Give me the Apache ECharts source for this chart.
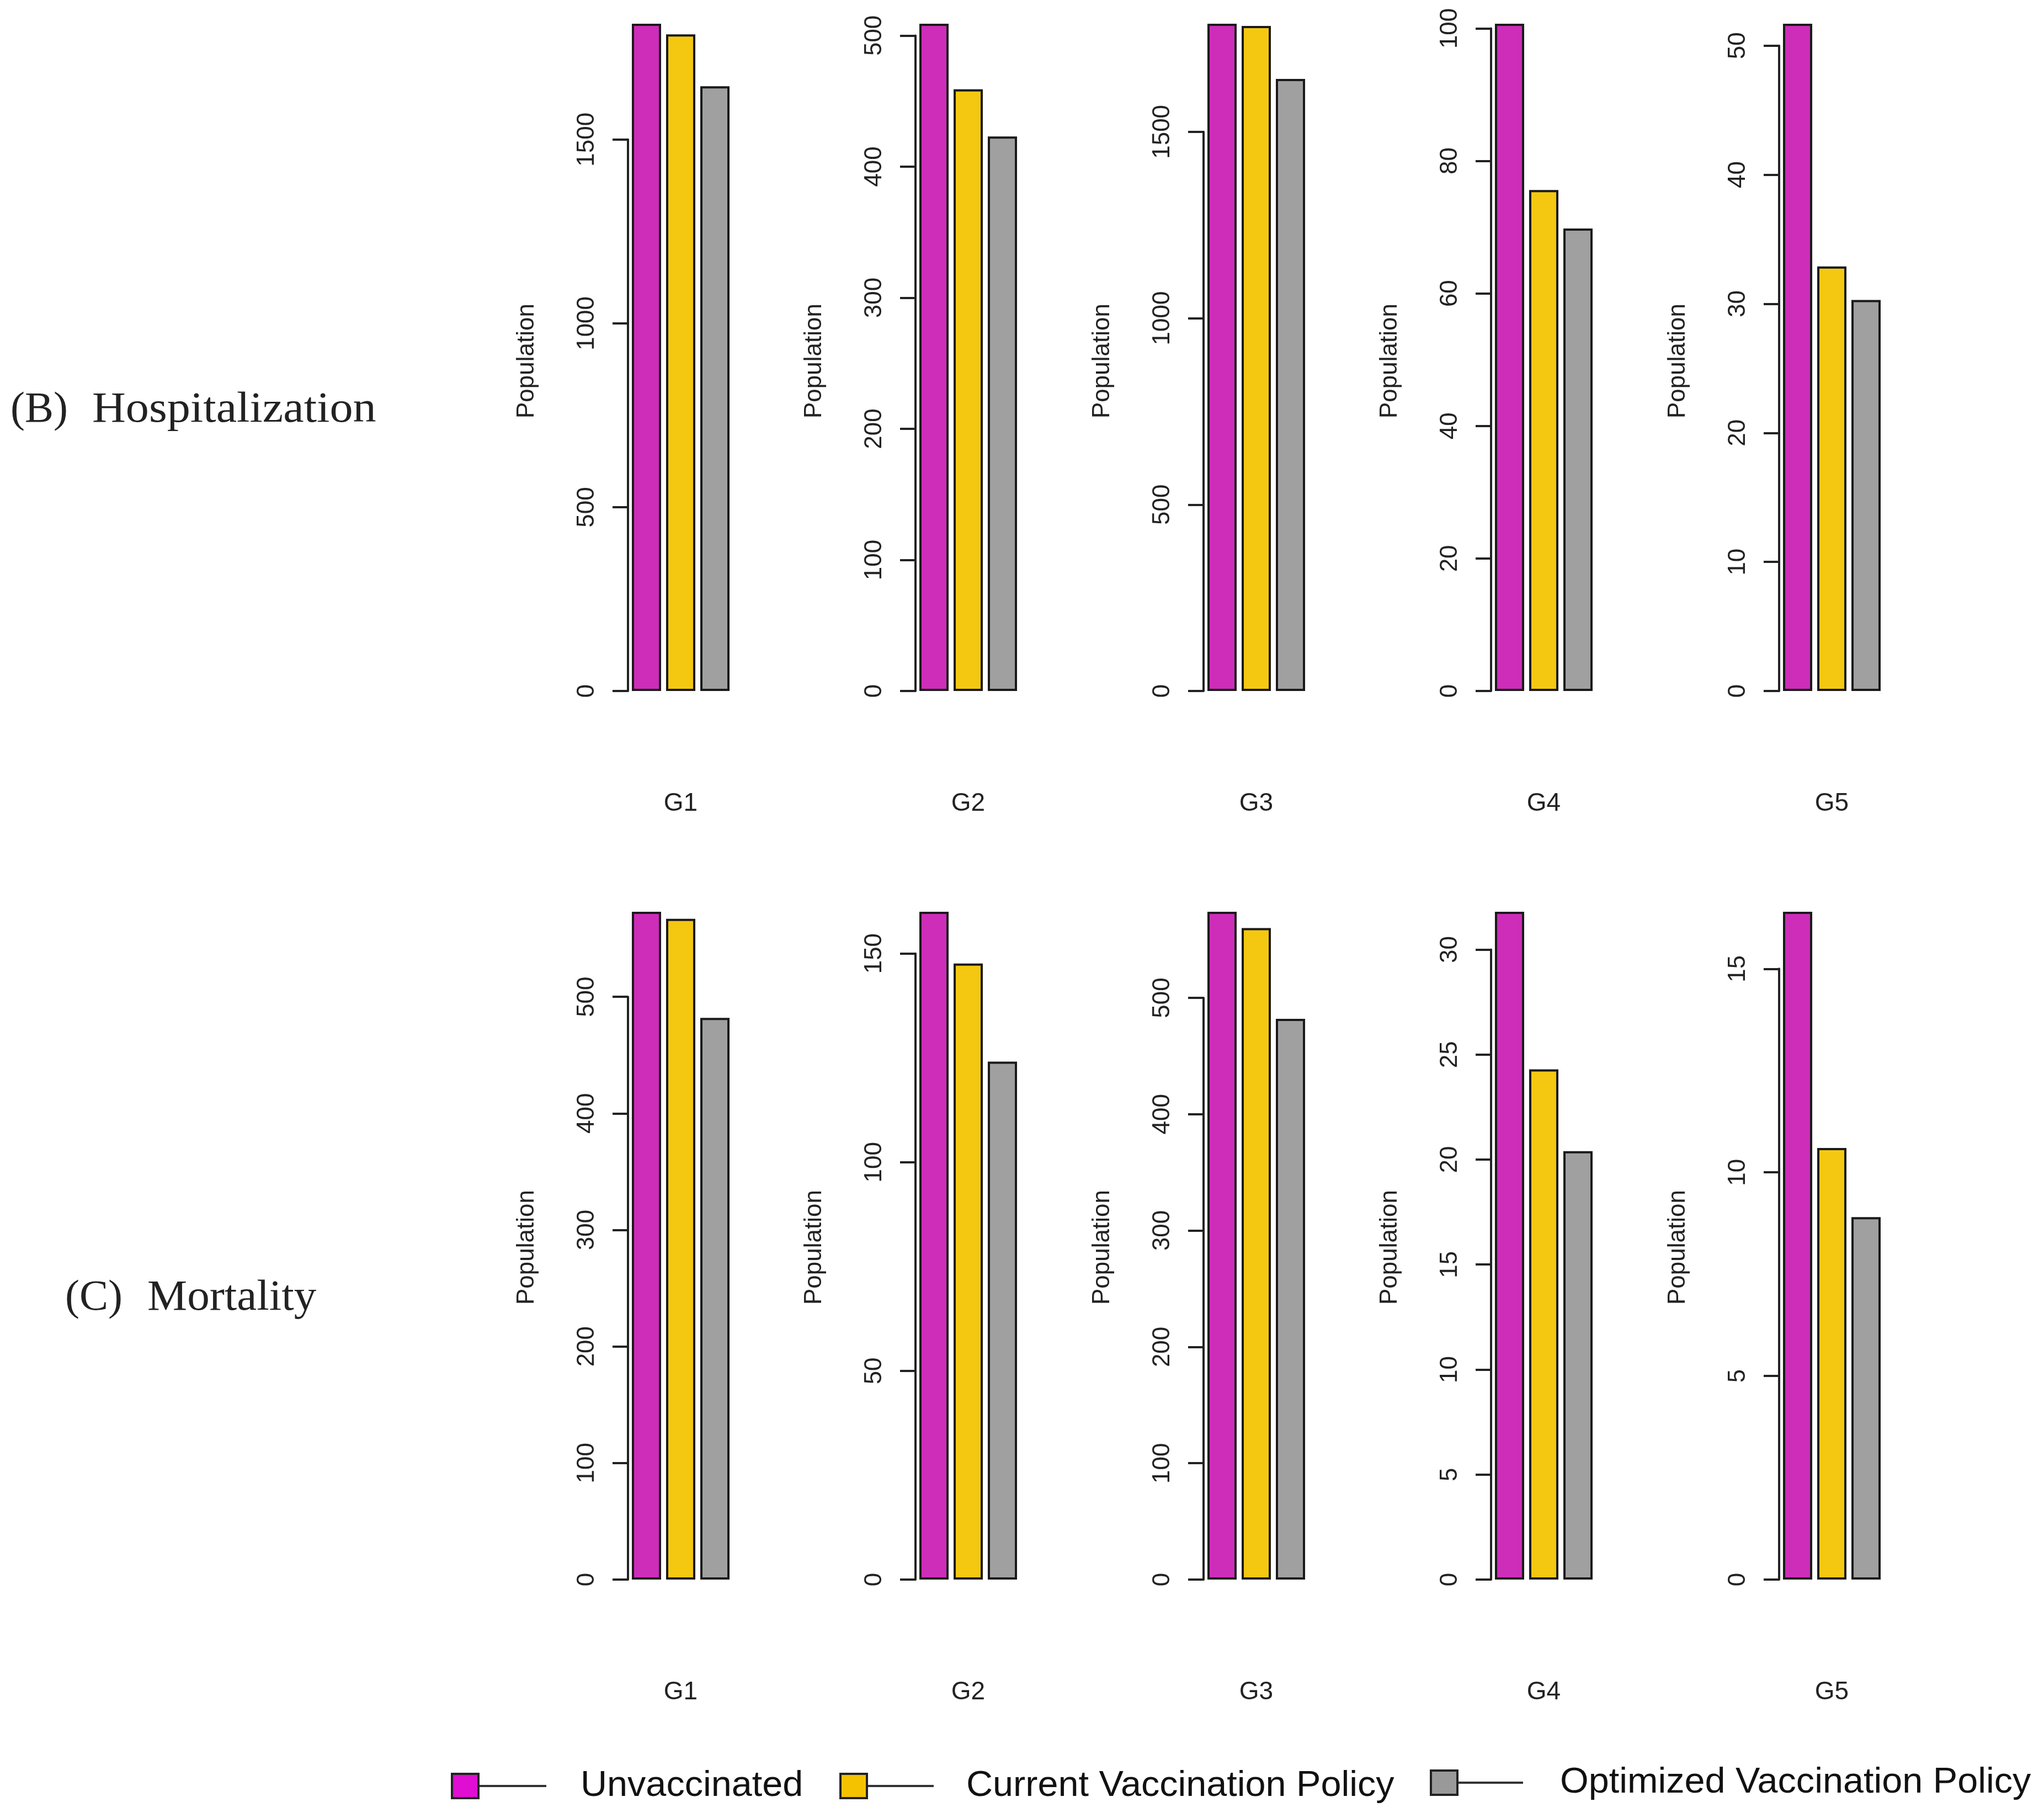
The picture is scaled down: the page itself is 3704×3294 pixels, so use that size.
<!DOCTYPE html>
<html>
<head>
<meta charset="utf-8">
<script src="https://cdn.jsdelivr.net/npm/echarts@6/dist/echarts.min.js"></script>
<style>
html,body{margin:0;padding:0;background:#fff;}
#chart{width:3704px;height:3294px;}
</style>
</head>
<body>
<div id="chart"></div>
<script>
// ---------------- data ----------------
const categories = ['G1', 'G2', 'G3', 'G4', 'G5'];
const seriesNames = ['Unvaccinated', 'Current Vaccination Policy', 'Optimized Vaccination Policy'];
const rowLabels = [['(B)', 'Hospitalization'], ['(C)', 'Mortality']];
const yAxisTitle = 'Population';

const hospUnvaccinated = [1815, 509, 1790, 100.7, 51.7];
const hospCurrent      = [1786, 459, 1784, 75.6, 32.9];
const hospOptimized    = [1645, 423, 1642, 69.8, 30.3];

const mortUnvaccinated = [573, 160, 574, 31.8, 16.4];
const mortCurrent      = [567, 147.6, 560, 24.3, 10.6];
const mortOptimized    = [482, 124.1, 482, 20.4, 8.9];

const hospTickMax  = [1500, 500, 1500, 100, 50];
const hospTickStep = [500, 100, 500, 20, 10];
const mortTickMax  = [500, 150, 500, 30, 15];
const mortTickStep = [100, 50, 100, 5, 5];

// ---------------- styles / layout ----------------
const barColors = ['#CD2DB9', '#F4C811', '#A0A0A0'];
const legendColors = ['#DF0ED2', '#F5C200', '#999999'];
const W = 3704, H = 3294;
const axisX = [1138, 1659, 2181, 2702, 3224];
const rowBaseline = [1252, 2862];
const rowBarTop = [43, 1652];
const gridWidth = 191;
const sans = 'Liberation Sans, Arial, Helvetica, sans-serif';
const serif = 'Liberation Serif, Times New Roman, serif';

const rows = [
  { vals: [hospUnvaccinated, hospCurrent, hospOptimized], tmax: hospTickMax, tstep: hospTickStep },
  { vals: [mortUnvaccinated, mortCurrent, mortOptimized], tmax: mortTickMax, tstep: mortTickStep }
];

const grids = [], xAxes = [], yAxes = [], series = [], graphics = [];

rows.forEach((row, r) => {
  const base = rowBaseline[r];
  const span = base - rowBarTop[r];
  categories.forEach((cat, i) => {
    const idx = r * categories.length + i;
    const maxVal = Math.max(row.vals[0][i], row.vals[1][i], row.vals[2][i]);
    const top = base - (row.tmax[i] / maxVal) * span;
    grids.push({ left: axisX[i], width: gridWidth, top: top, bottom: H - base, containLabel: false });
    xAxes.push({
      type: 'category', gridIndex: idx, data: [cat],
      axisLine: { show: false }, axisTick: { show: false },
      axisLabel: { margin: 181, fontSize: 46, color: '#222', fontFamily: sans }
    });
    yAxes.push({
      type: 'value', gridIndex: idx, min: 0, max: row.tmax[i], interval: row.tstep[i],
      splitLine: { show: false },
      axisLine: { show: true, lineStyle: { color: '#222', width: 4 } },
      axisTick: { show: true, length: 28, lineStyle: { color: '#222', width: 4 } },
      axisLabel: { rotate: 90, margin: 52, fontSize: 44, color: '#222', fontFamily: sans,
                   formatter: v => String(v) }
    });
    row.vals.forEach((arr, s) => {
      series.push({
        type: 'bar', name: seriesNames[s], xAxisIndex: idx, yAxisIndex: idx,
        data: [arr[i]], barWidth: 53, barGap: '17%', clip: false,
        itemStyle: { color: barColors[s], borderColor: '#1a1a1a', borderWidth: 4 },
        emphasis: { disabled: true }, silent: true
      });
    });
    // y-axis title
    graphics.push({
      type: 'text', x: axisX[i] - 183, y: r === 0 ? 654 : 2260, rotation: Math.PI / 2,
      style: { text: yAxisTitle, font: '44px ' + sans, fill: '#222', align: 'center', verticalAlign: 'middle' }
    });
  });
});

// row labels
const rowLabelX = [[19, 167], [118, 267]];
const rowLabelY = [744, 2353];
rowLabels.forEach((lab, r) => {
  graphics.push({ type: 'text', x: rowLabelX[r][0], y: rowLabelY[r],
    style: { text: lab[0], font: '78px ' + serif, fill: '#222', align: 'left', verticalAlign: 'middle' } });
  graphics.push({ type: 'text', x: rowLabelX[r][1], y: rowLabelY[r], scaleX: r === 0 ? 1.08 : 1.04,
    style: { text: lab[1], font: '78px ' + serif, fill: '#222', align: 'left', verticalAlign: 'middle' } });
});

// legend (square + line + label)
const legSquareX = [819, 1523, 2593];
const legLineEnd = [990, 1692, 2760];
const legTextX = [1052, 1751, 2827];
const legY = [3236, 3236, 3230];
seriesNames.forEach((name, s) => {
  graphics.push({ type: 'line', shape: { x1: legSquareX[s] + 48, y1: legY[s], x2: legLineEnd[s], y2: legY[s] },
    style: { stroke: '#333', lineWidth: 4 } });
  graphics.push({ type: 'rect', shape: { x: legSquareX[s], y: legY[s] - 22, width: 48, height: 44 },
    style: { fill: legendColors[s], stroke: '#222', lineWidth: 4 } });
  graphics.push({ type: 'text', x: legTextX[s], y: legY[s], scaleX: 1.04,
    style: { text: name, font: '64px ' + sans, fill: '#111', align: 'left', verticalAlign: 'middle' } });
});

const chart = echarts.init(document.getElementById('chart'), null, { renderer: 'canvas', width: W, height: H });
chart.setOption({
  backgroundColor: '#ffffff',
  animation: false,
  grid: grids,
  xAxis: xAxes,
  yAxis: yAxes,
  series: series,
  graphic: graphics
});
</script>
</body>
</html>
